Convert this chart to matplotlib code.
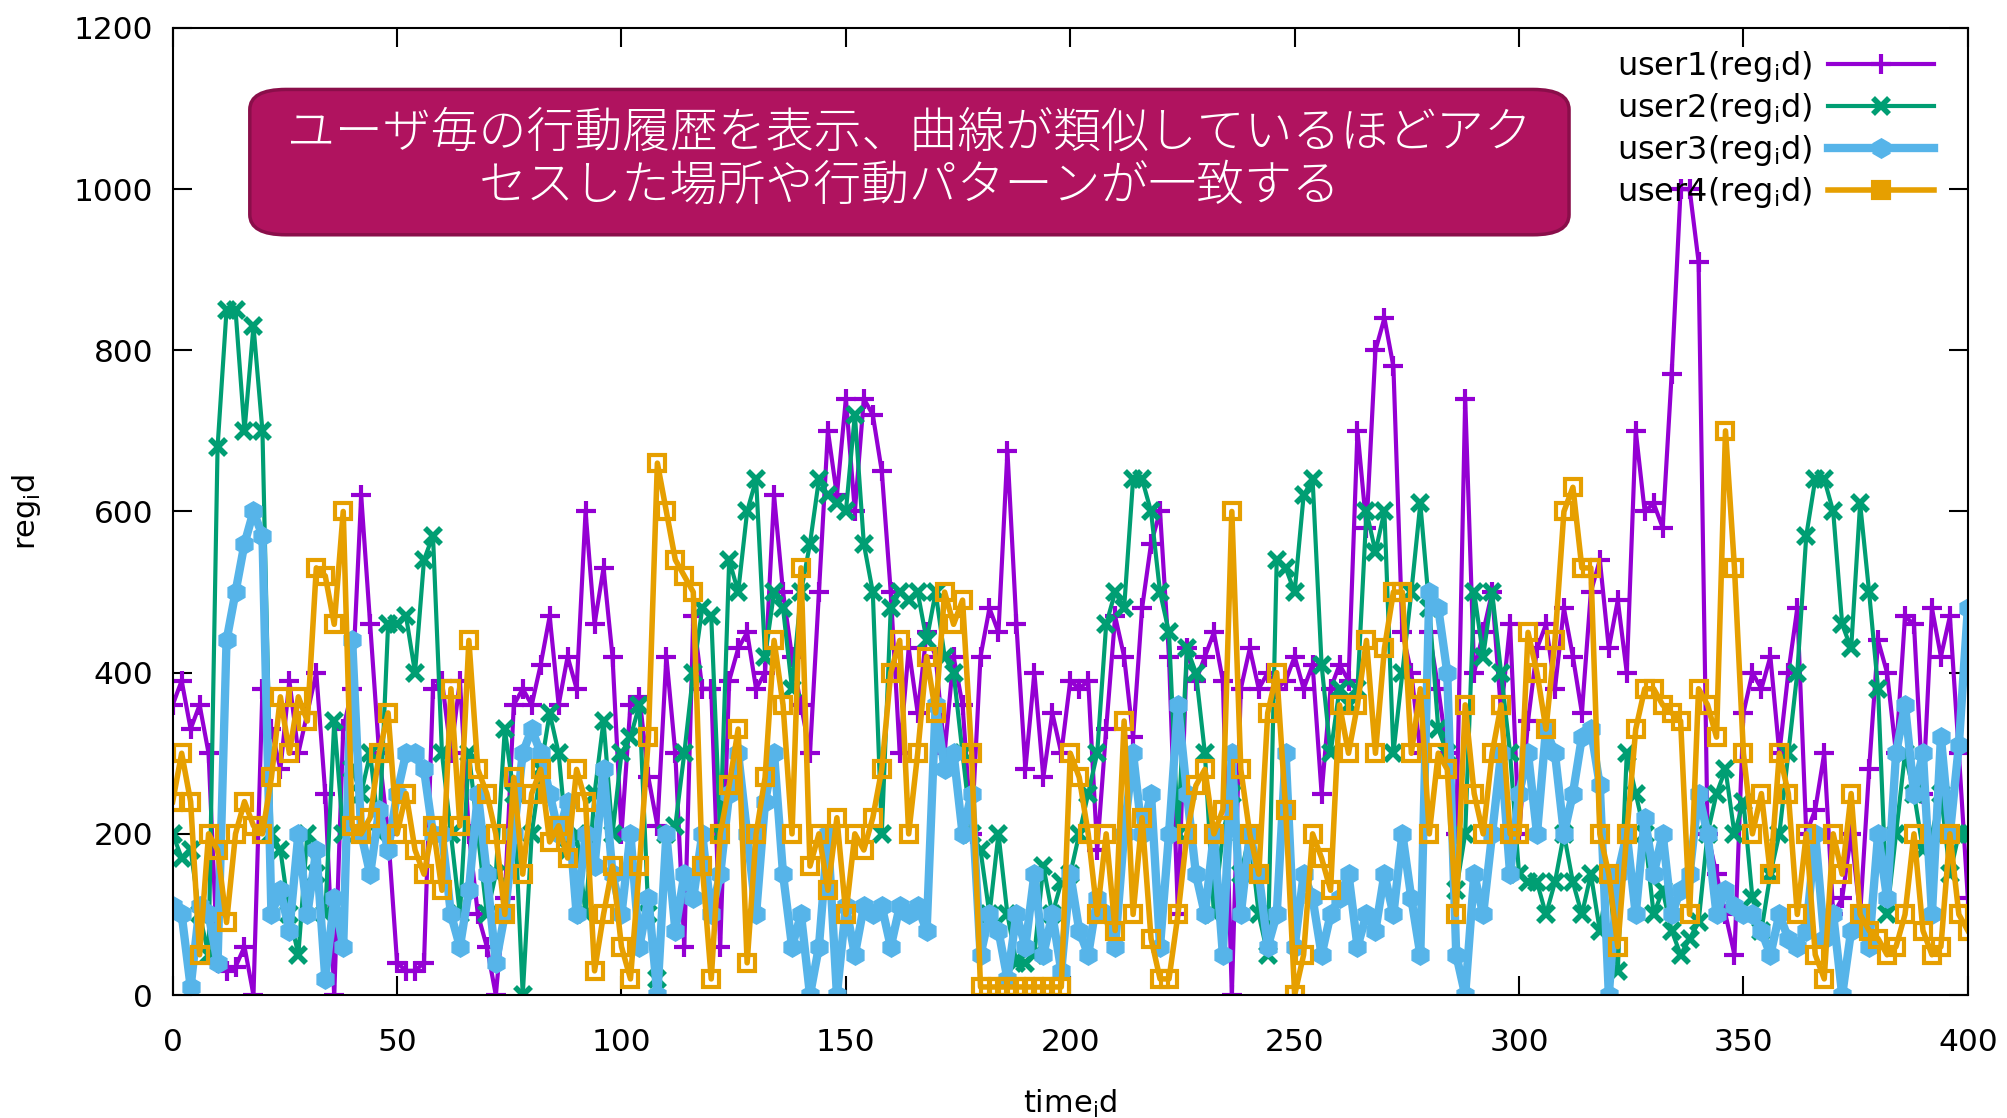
import numpy as np
import matplotlib
matplotlib.use("Agg")
import matplotlib.pyplot as plt
from matplotlib.patches import FancyBboxPatch

plt.rcParams["font.family"] = ["DejaVu Sans"]
plt.rcParams["mathtext.default"] = "regular"

# one sample every 2 time steps
time_id = np.arange(0, 401, 2)

user1 = [
    360, 390, 330, 360, 300, 40, 30, 35, 60, 0,
    380, 330, 280, 390, 300, 350, 400, 250, 0, 330,
    380, 620, 460, 300, 200, 40, 30, 30, 40, 380,
    390, 300, 390, 200, 100, 60, 0, 120, 360, 380,
    360, 410, 470, 360, 420, 380, 600, 460, 530, 420,
    200, 360, 370, 270, 210, 420, 300, 60, 470, 380,
    380, 60, 390, 430, 450, 380, 400, 620, 500, 420,
    360, 300, 500, 700, 620, 740, 600, 740, 720, 650,
    500, 300, 430, 350, 450, 420, 300, 420, 360, 200,
    420, 480, 450, 675, 460, 280, 400, 270, 350, 300,
    390, 380, 390, 180, 330, 470, 420, 320, 480, 560,
    600, 420, 100, 430, 390, 420, 450, 390, 0, 380,
    430, 380, 400, 380, 390, 420, 380, 410, 250, 380,
    410, 390, 700, 580, 800, 840, 780, 450, 400, 300,
    450, 380, 300, 200, 740, 400, 450, 500, 350, 460,
    200, 340, 430, 460, 380, 480, 420, 350, 500, 540,
    430, 490, 400, 700, 600, 610, 580, 770, 1000, 1000,
    910, 200, 150, 100, 50, 350, 400, 380, 420, 300,
    400, 480, 200, 230, 300, 100, 120, 200, 100, 280,
    440, 400, 300, 470, 460, 250, 480, 420, 470, 300, 120,
]
user2 = [
    200, 170, 180, 100, 50, 680, 850, 850, 700, 830,
    700, 200, 180, 100, 50, 200, 150, 100, 340, 200,
    280, 250, 300, 200, 460, 460, 470, 400, 540, 570,
    300, 200, 100, 300, 200, 100, 150, 330, 250, 0,
    200, 280, 350, 300, 180, 200, 100, 250, 340, 200,
    300, 320, 360, 100, 20, 200, 210, 300, 400, 480,
    470, 200, 540, 500, 600, 640, 420, 500, 480, 380,
    500, 560, 640, 620, 610, 600, 720, 560, 500, 200,
    480, 500, 490, 500, 440, 500, 420, 400, 300, 200,
    180, 100, 200, 100, 40, 40, 50, 160, 100, 140,
    150, 200, 250, 300, 460, 500, 480, 640, 640, 600,
    500, 450, 200, 430, 400, 300, 100, 200, 250, 150,
    200, 100, 50, 540, 530, 500, 620, 640, 410, 300,
    380, 360, 380, 600, 550, 600, 300, 400, 500, 610,
    480, 330, 300, 130, 200, 500, 420, 500, 400, 300,
    150, 140, 140, 100, 140, 200, 140, 100, 150, 80,
    150, 30, 300, 250, 200, 100, 130, 80, 50, 70,
    90, 200, 250, 280, 200, 240, 120, 80, 150, 200,
    300, 400, 570, 640, 640, 600, 460, 430, 610, 500,
    380, 100, 200, 300, 250, 180, 200, 250, 150, 200, 200,
]
user3 = [
    110, 100, 10, 110, 100, 40, 440, 500, 560, 600,
    570, 100, 130, 80, 200, 100, 180, 20, 120, 60,
    440, 200, 150, 230, 180, 250, 300, 300, 280, 200,
    200, 100, 60, 130, 250, 150, 40, 100, 200, 300,
    330, 300, 250, 200, 240, 100, 200, 160, 280, 150,
    100, 200, 60, 120, 0, 200, 80, 150, 120, 200,
    100, 150, 250, 300, 200, 100, 240, 300, 150, 60,
    100, 0, 60, 200, 0, 110, 50, 110, 100, 110,
    60, 110, 100, 110, 80, 360, 280, 300, 200, 250,
    50, 100, 80, 20, 100, 60, 150, 50, 100, 30,
    150, 80, 50, 120, 100, 60, 200, 300, 200, 250,
    60, 200, 360, 250, 150, 100, 200, 50, 300, 100,
    200, 150, 60, 100, 300, 60, 150, 120, 50, 100,
    120, 150, 60, 100, 80, 150, 100, 200, 120, 50,
    500, 480, 400, 50, 0, 150, 100, 200, 300, 150,
    250, 300, 200, 330, 300, 200, 250, 320, 330, 260,
    0, 150, 200, 100, 220, 150, 200, 100, 130, 150,
    250, 200, 100, 130, 110, 100, 100, 80, 50, 100,
    70, 60, 80, 200, 70, 100, 0, 80, 100, 60,
    200, 120, 300, 360, 250, 300, 100, 320, 200, 310, 480,
]
user4 = [
    240, 300, 240, 50, 200, 180, 90, 200, 240, 210,
    200, 270, 370, 300, 370, 340, 530, 520, 460, 600,
    210, 200, 220, 300, 350, 200, 250, 180, 150, 210,
    130, 380, 210, 440, 280, 250, 200, 100, 270, 150,
    250, 280, 190, 210, 170, 280, 240, 30, 100, 160,
    60, 20, 160, 320, 660, 600, 540, 520, 500, 160,
    20, 200, 260, 330, 40, 200, 270, 440, 360, 200,
    530, 160, 200, 130, 220, 100, 200, 180, 220, 280,
    400, 440, 200, 300, 420, 350, 500, 460, 490, 300,
    10, 10, 10, 10, 10, 10, 10, 10, 10, 10,
    300, 270, 200, 100, 200, 80, 340, 100, 220, 70,
    20, 20, 100, 200, 260, 280, 200, 230, 600, 280,
    200, 150, 350, 400, 230, 0, 50, 200, 170, 130,
    360, 300, 360, 440, 300, 430, 500, 500, 300, 380,
    200, 300, 280, 100, 360, 250, 200, 300, 360, 200,
    200, 450, 400, 330, 440, 600, 630, 530, 530, 200,
    150, 60, 200, 330, 380, 380, 360, 350, 340, 100,
    380, 360, 320, 700, 530, 300, 200, 250, 150, 300,
    250, 100, 200, 50, 20, 200, 150, 250, 100, 80,
    70, 50, 60, 100, 200, 80, 50, 60, 200, 100, 80,
]

labels = [r"user%d(reg$_{\rm i}$d)" % k for k in range(1, 5)]

fig = plt.figure(figsize=(20.08, 11.18), dpi=100)
ax = fig.add_axes([0.086, 0.110, 0.894, 0.865])

ax.plot(time_id, user1, color="#9400D3", lw=3, marker="+", ms=14, mew=3, label=labels[0])
ax.plot(time_id, user2, color="#009E73", lw=3, marker="x", ms=11, mew=4, label=labels[1])
ax.plot(time_id, user3, color="#56B4E9", lw=6, marker="h", ms=14, label=labels[2])
ax.plot(time_id, user4, color="#E69F00", lw=4, marker="s", ms=12, mew=3,
        mfc="none", label=labels[3])

ax.set_xlim(0, 400)
ax.set_ylim(0, 1200)
ax.set_xticks(np.arange(0, 401, 50))
ax.set_yticks(np.arange(0, 1201, 200))
ax.tick_params(direction="in", length=14, width=1.5, top=True, right=True,
               labelsize=22.5, pad=14)
ax.tick_params(axis="x", pad=24)
for s in ax.spines.values():
    s.set_linewidth(1.5)

ax.set_xlabel(r"time$_{\rm i}$d", fontsize=22, labelpad=22)
ax.set_ylabel(r"reg$_{\rm i}$d", fontsize=22, labelpad=22)

leg = ax.legend(loc="upper right", bbox_to_anchor=(0.997, 1.008), frameon=False,
                markerfirst=False, fontsize=23, handlelength=3.3,
                labelspacing=0.22, handletextpad=0.5)
# legend sample for user4 uses a filled square
leg.legend_handles[3].set_markerfacecolor("#E69F00")

# callout box with the caption
box = FancyBboxPatch((0.1244, 0.790), 0.657, 0.130, transform=fig.transFigure,
                     boxstyle="round,pad=0,rounding_size=0.018",
                     fc="#B0135F", ec="#8A0E4A", lw=2.5, zorder=5)
fig.patches.append(box)
fig.text(0.453, 0.857,
         "ユーザ毎の行動履歴を表示、曲線が類似しているほどアク\nセスした場所や行動パターンが一致する",
         ha="center", va="center", color="white", fontsize=34.5, linespacing=1.12,
         family=["Noto Sans CJK JP", "DejaVu Sans"], weight="light", zorder=6)

fig.savefig("out.png", dpi=100)
